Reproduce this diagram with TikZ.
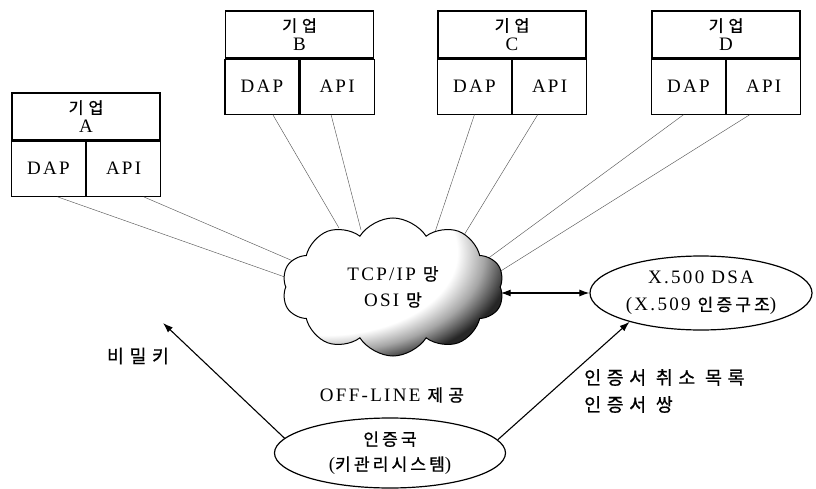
\documentclass[tikz,border=0pt]{standalone}
\usepackage{fontspec}
\setmainfont{Liberation Serif}[LetterSpace=12]
\newfontfamily\krfont{Noto Sans CJK KR}[Scale=0.9, LetterSpace=30, FakeBold=0.8]
\newfontfamily\krin{Noto Sans CJK KR}[Scale=0.9, LetterSpace=18, FakeBold=0.8]
\usetikzlibrary{shapes.geometric,shapes.symbols,arrows.meta,calc}

% shading of the network cloud: light body, dark lower right rim
\pgfdeclareradialshading{cloudshade}{\pgfpoint{-22bp}{18bp}}{%
  color(0bp)=(white); color(30bp)=(white); color(35bp)=(black!35);
  color(40bp)=(black!85); color(100bp)=(black)}

% a firm: title block on top of a DAP / API pair
\newcommand\firmbox[4]{%
  \node[title] (#1t) at (#2,#3+23.5) {{\krfont\fontsize{18}{19}\selectfont 기업}\\[0pt]#4};
  \node[cell, anchor=north east] (#1d) at (#1t.south) {DAP};
  \node[cell, anchor=north west] (#1a) at (#1t.south) {API};
}

\begin{document}
\begin{tikzpicture}[x=1pt,y=-1pt,
  lat/.style={font=\fontsize{19}{26}\selectfont},
  title/.style={draw, line width=1.2pt, minimum width=148pt, minimum height=47pt,
    inner sep=0pt, align=center, font=\fontsize{19}{19}\selectfont},
  cell/.style={draw, line width=1.2pt, minimum width=74pt, minimum height=55pt,
    inner sep=0pt, font=\fontsize{19}{19}\selectfont},
  link/.style={draw=black!65, line width=0.45pt},
  arr/.style={line width=1.1pt, -{Latex[length=10pt,width=7pt]}},
  dbl/.style={line width=1.1pt, {Latex[length=10pt,width=7pt]}-{Latex[length=10pt,width=7pt]}},
  oval/.style={ellipse, draw, line width=1.2pt, inner sep=0pt, align=center},
  krlabel/.style={font=\krfont\fontsize{20.5}{27}\selectfont, inner sep=0pt}
]
\useasboundingbox (0,0) rectangle (816,489);

\firmbox{A}{86}{93}{A}
\firmbox{B}{299.5}{11}{B}
\firmbox{C}{512}{11}{C}
\firmbox{D}{726}{11}{D}

% ends of the links, tucked under the cloud
\coordinate (eAd) at (299,282);
\coordinate (eAa) at (300,264);
\coordinate (eBd) at (339,228);
\coordinate (eBa) at (361,230);
\coordinate (eCd) at (433,238);
\coordinate (eCa) at (461,240);
\coordinate (eDd) at (475,268);
\coordinate (eDa) at (488,279);

\draw[link] ($(Ad.south)+(9,0)$)  -- (eAd);
\draw[link] ($(Aa.south)+(20,0)$) -- (eAa);
\draw[link] ($(Bd.south)+(11,0)$) -- (eBd);
\draw[link] ($(Ba.south)+(-6,0)$) -- (eBa);
\draw[link] ($(Cd.south)+(0,0)$)  -- (eCd);
\draw[link] ($(Ca.south)+(-12,0)$) -- (eCa);
\draw[link] ($(Dd.south)+(-5,0)$) -- (eDd);
\draw[link] ($(Da.south)+(-14,0)$) -- (eDa);

% network cloud
\node[cloud, cloud puffs=10, cloud puff arc=115, cloud ignores aspect,
  minimum width=222pt, minimum height=138pt, draw, line width=1pt,
  shade, shading=cloudshade, align=center, lat] (net) at (393,287)
  {TCP/IP {\krin 망}\\OSI {\krin 망}};

% directory server and certification authority
\node[oval, minimum width=222pt, minimum height=74pt, font=\fontsize{19}{27}\selectfont]
  (dsa) at (701,293) {X.500 DSA\\(X.509 {\krin 인증구조})};
\node[oval, minimum width=231pt, minimum height=70pt, font=\fontsize{19}{25}\selectfont]
  (ca) at (390,453) {{\krin 인증국}\\({\krin 키관리시스템})};

\coordinate (keytip) at (163,323);
\draw[dbl] (net.east |- dsa.west) -- (dsa.west);
\draw[arr] (ca.172) -- (keytip);
\draw[arr] (ca.7) -- (dsa.202);

% labels
\node[krlabel] (keylbl) at (138,356) {비밀키};
\node[lat, inner sep=0pt] (offline) at (392,395) {OFF-LINE {\krfont 제공}};
\node[krlabel, anchor=west, align=left] (crl) at (584,391) {인증서 취소 목록\\인증서 쌍};
\end{tikzpicture}
\end{document}
